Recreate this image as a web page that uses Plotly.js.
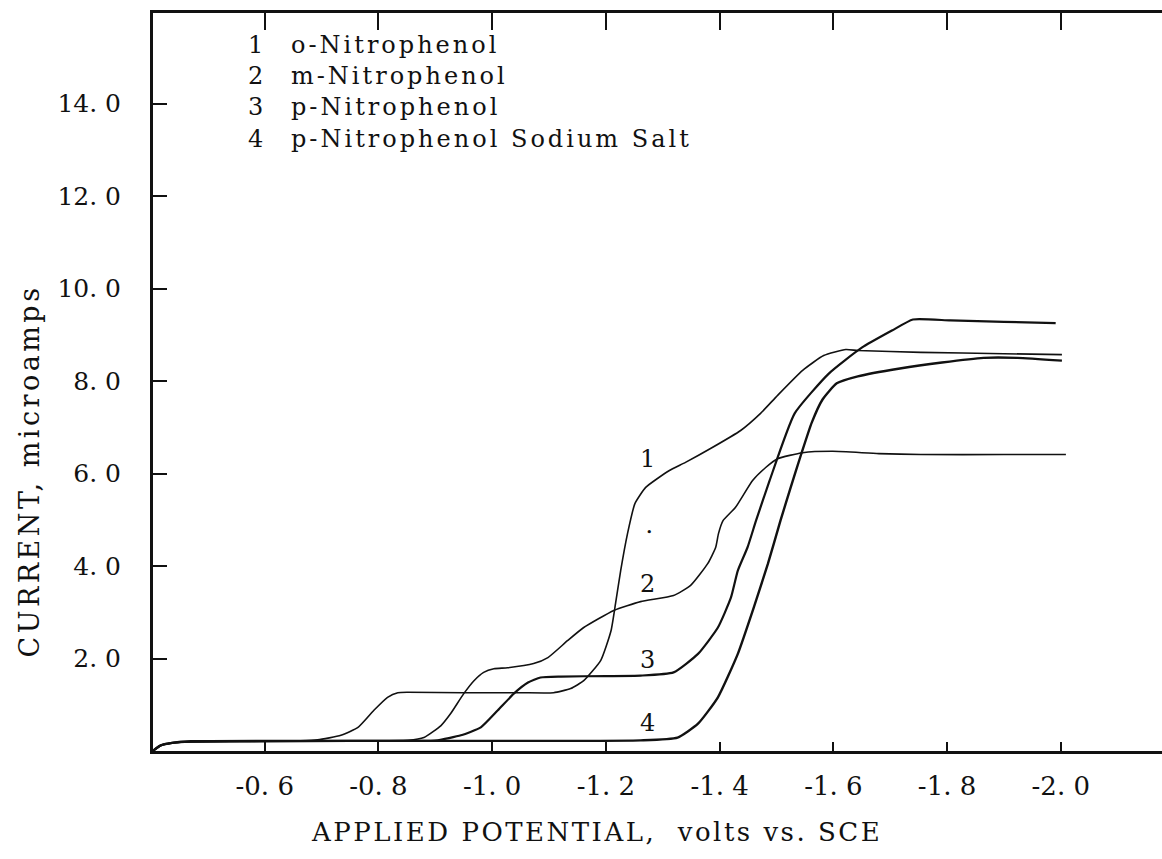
<!DOCTYPE html>
<html>
<head>
<meta charset="utf-8">
<script src="https://cdn.plot.ly/plotly-3.0.1.min.js"></script>
<style>html,body{margin:0;padding:0;background:#fff;}#chart{width:1162px;height:859px;}</style>
</head>
<body>
<div id="chart"></div>
<script>
// ---- data ----
const seriesNumbers = ['1', '2', '3', '4'];
const seriesNames = ['o-Nitrophenol', 'm-Nitrophenol', 'p-Nitrophenol', 'p-Nitrophenol Sodium Salt'];

const potential1 = [-0.403, -0.417, -0.440, -0.470, -0.560, -0.663, -0.693, -0.734, -0.764, -0.792, -0.816, -0.834, -0.852, -0.950, -1.050, -1.108, -1.138, -1.161, -1.191, -1.209, -1.217, -1.226, -1.238, -1.251, -1.270, -1.311, -1.340, -1.384, -1.437, -1.472, -1.502, -1.546, -1.583, -1.622, -1.643, -1.754, -1.900, -2.002];
const current1 = [0.00, 0.12, 0.18, 0.20, 0.21, 0.22, 0.24, 0.34, 0.51, 0.88, 1.16, 1.26, 1.27, 1.26, 1.26, 1.26, 1.35, 1.52, 1.96, 2.60, 3.19, 3.90, 4.70, 5.35, 5.70, 6.06, 6.24, 6.54, 6.93, 7.30, 7.69, 8.23, 8.55, 8.68, 8.66, 8.62, 8.59, 8.57];

const potential2 = [-0.403, -0.417, -0.440, -0.470, -0.600, -0.750, -0.852, -0.880, -0.910, -0.927, -0.950, -0.968, -0.985, -1.003, -1.027, -1.073, -1.098, -1.133, -1.161, -1.214, -1.261, -1.319, -1.349, -1.379, -1.393, -1.398, -1.406, -1.428, -1.458, -1.481, -1.502, -1.546, -1.599, -1.680, -1.754, -1.900, -2.009];
const current2 = [0.00, 0.12, 0.18, 0.20, 0.21, 0.22, 0.23, 0.29, 0.55, 0.81, 1.24, 1.52, 1.70, 1.78, 1.80, 1.89, 2.02, 2.39, 2.67, 3.04, 3.23, 3.36, 3.58, 4.05, 4.40, 4.70, 4.98, 5.27, 5.85, 6.13, 6.32, 6.45, 6.48, 6.43, 6.41, 6.41, 6.41];

const potential3 = [-0.403, -0.417, -0.440, -0.470, -0.600, -0.750, -0.892, -0.904, -0.945, -0.980, -1.010, -1.038, -1.063, -1.085, -1.121, -1.200, -1.261, -1.319, -1.362, -1.397, -1.420, -1.432, -1.449, -1.464, -1.488, -1.532, -1.592, -1.650, -1.703, -1.740, -1.806, -1.900, -1.991];
const current3 = [0.00, 0.12, 0.18, 0.20, 0.21, 0.22, 0.22, 0.23, 0.34, 0.51, 0.88, 1.24, 1.48, 1.59, 1.61, 1.62, 1.63, 1.70, 2.10, 2.67, 3.32, 3.90, 4.40, 4.98, 5.85, 7.30, 8.16, 8.72, 9.09, 9.33, 9.31, 9.28, 9.25];

const potential4 = [-0.403, -0.417, -0.440, -0.470, -0.700, -1.000, -1.261, -1.326, -1.362, -1.397, -1.432, -1.460, -1.485, -1.507, -1.525, -1.543, -1.562, -1.581, -1.606, -1.643, -1.717, -1.791, -1.864, -1.924, -2.002];
const current4 = [0.00, 0.12, 0.18, 0.21, 0.22, 0.22, 0.23, 0.29, 0.59, 1.16, 2.10, 3.10, 4.05, 4.98, 5.70, 6.40, 7.10, 7.60, 7.95, 8.10, 8.27, 8.40, 8.50, 8.50, 8.44];

const xTickValues = [-0.6, -0.8, -1.0, -1.2, -1.4, -1.6, -1.8, -2.0];
const xTickLabels = ['-0. 6', '-0. 8', '-1. 0', '-1. 2', '-1. 4', '-1. 6', '-1. 8', '-2. 0'];
const yTickValues = [2, 4, 6, 8, 10, 12, 14];
const yTickLabels = ['2. 0', '4. 0', '6. 0', '8. 0', '10. 0', '12. 0', '14. 0'];

const xTitle = 'APPLIED POTENTIAL,\u00a0 volts vs. SCE';
const yTitle = 'CURRENT, microamps';

// ---- drawing ----
const FONT = 'DejaVu Serif, Liberation Serif, serif';
const INK = '#111111';
const spaced = (t, px) => '<span style="letter-spacing:' + px + 'px">' + t + '</span>';
const potentials = [potential1, potential2, potential3, potential4];
const currents = [current1, current2, current3, current4];
const widths = [1.6, 1.6, 2.2, 2.4];

const traces = potentials.map((p, k) => ({
  type: 'scatter', mode: 'lines', x: p, y: currents[k],
  name: seriesNames[k], showlegend: false, hoverinfo: 'skip',
  line: {color: INK, width: widths[k], shape: 'spline', smoothing: 0.5}
}));
// carrier for the top (mirrored) tick axis
traces.push({type: 'scatter', mode: 'lines', x: [], y: [], xaxis: 'x2', showlegend: false, hoverinfo: 'skip'});

const annotations = [];
// key block: number column and name column
annotations.push({xref: 'x', yref: 'y', x: -0.584, y: 14.24, text: seriesNumbers.join('<br>'),
  showarrow: false, xanchor: 'center', yanchor: 'middle', align: 'center',
  font: {family: FONT, size: 24, color: INK}});
annotations.push({xref: 'x', yref: 'y', x: -0.642, y: 14.24, text: seriesNames.map(n => spaced(n, 3)).join('<br>'),
  showarrow: false, xanchor: 'left', yanchor: 'middle', align: 'left',
  font: {family: FONT, size: 24, color: INK}});
// curve labels
const labelY = [6.32, 3.61, 1.96, 0.60];
seriesNumbers.forEach((n, k) => {
  annotations.push({xref: 'x', yref: 'y', x: -1.274, y: labelY[k], text: n, showarrow: false,
    xanchor: 'center', yanchor: 'middle', font: {family: FONT, size: 24, color: INK}});
});
annotations.push({xref: 'x', yref: 'y', x: -1.276, y: 4.72, text: '•', showarrow: false,
  xanchor: 'center', yanchor: 'middle', font: {family: FONT, size: 11, color: INK}});
// axis titles
annotations.push({xref: 'paper', yref: 'paper', x: 0.44, y: -0.11, text: spaced(xTitle, 2.5), showarrow: false,
  xanchor: 'center', yanchor: 'middle', font: {family: FONT, size: 26, color: INK}});
annotations.push({xref: 'paper', yref: 'paper', x: -0.122, y: 0.38, text: spaced(yTitle, 3.5), showarrow: false, textangle: -90,
  xanchor: 'center', yanchor: 'middle', font: {family: FONT, size: 27, color: INK}});

const layout = {
  width: 1162, height: 859,
  margin: {l: 153, r: 0, t: 13, b: 108, pad: 0},
  paper_bgcolor: '#ffffff', plot_bgcolor: '#ffffff',
  showlegend: false,
  xaxis: {
    range: [-0.4035, -2.178], tickmode: 'array', tickvals: xTickValues, ticktext: xTickLabels,
    ticks: 'inside', ticklen: 9, tickwidth: 2, tickcolor: INK,
    showline: true, linewidth: 3, linecolor: INK, showgrid: false, zeroline: false,
    tickfont: {family: FONT, size: 26, color: INK}, ticklabelstandoff: 10
  },
  xaxis2: {
    overlaying: 'x', matches: 'x', side: 'top', anchor: 'y',
    tickmode: 'array', tickvals: xTickValues, showticklabels: false,
    ticks: 'inside', ticklen: 17, tickwidth: 2, tickcolor: INK,
    showline: true, linewidth: 3, linecolor: INK, showgrid: false, zeroline: false
  },
  yaxis: {
    range: [0, 15.957], tickmode: 'array', tickvals: yTickValues, ticktext: yTickLabels,
    ticks: 'inside', ticklen: 14, tickwidth: 2, tickcolor: INK,
    showline: true, linewidth: 3, linecolor: INK, showgrid: false, zeroline: false,
    tickfont: {family: FONT, size: 25, color: INK}, ticklabelstandoff: 24
  },
  annotations: annotations
};

Plotly.newPlot('chart', traces, layout, {staticPlot: true, displayModeBar: false});
</script>
</body>
</html>
